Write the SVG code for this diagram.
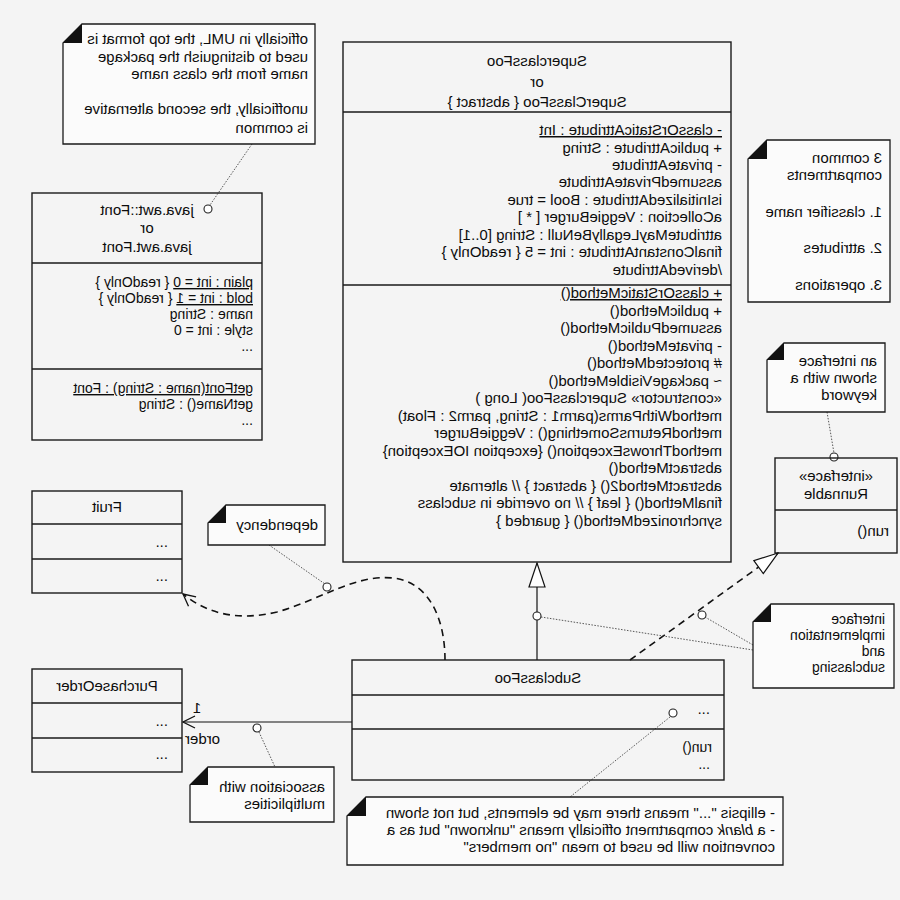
<svg xmlns="http://www.w3.org/2000/svg" width="900" height="900" viewBox="0 0 900 900">
<style>
.t{font-family:"Liberation Sans",Arial,sans-serif;font-size:15px;fill:#0c0c0c}
.s{font-size:14px}
.c{text-anchor:middle}
.e{text-anchor:end}
.box{fill:none;stroke:#1a1a1a;stroke-width:1.4}
.note{fill:#fbfbfb;stroke:#1a1a1a;stroke-width:1.3}
.fold{fill:#111;stroke:none}
.anc{fill:none;stroke:#444;stroke-width:0.9;stroke-dasharray:1.5 1.5}
.dot{fill:#fff;stroke:#222;stroke-width:1.1}
.dash{fill:none;stroke:#111;stroke-width:1.6;stroke-dasharray:7 5}
.solid{fill:none;stroke:#111;stroke-width:1.2}
.u{text-decoration:underline}
</style>
<defs>
<marker id="tri" markerUnits="userSpaceOnUse" markerWidth="26" markerHeight="18" viewBox="0 0 26 18" refX="25" refY="9" orient="auto">
<path d="M1,1 L25,9 L1,17 Z" fill="#fff" stroke="#111" stroke-width="1.2" stroke-dasharray="none"/>
</marker>
<marker id="open" markerUnits="userSpaceOnUse" markerWidth="14" markerHeight="14" viewBox="0 0 14 14" refX="13" refY="7" orient="auto">
<path d="M1,1 L13,7 L1,13" fill="none" stroke="#111" stroke-width="1.3" stroke-dasharray="none"/>
</marker>
</defs>
<rect x="0" y="0" width="900" height="900" fill="#f4f4f4"/>
<g id="diagram" transform="matrix(-1 0 0 1 900 0)">
<g id="connectors">
<path class="dash" d="M455,660 C455,620 470,582 507,578 C545,574 580,600 623,612 C665,622 695,612 717,594" marker-end="url(#open)"/>
<line class="solid" x1="363" y1="660" x2="363" y2="563" marker-end="url(#tri)"/>
<line class="dash" x1="270" y1="660" x2="122" y2="553" marker-end="url(#tri)"/>
<line class="solid" x1="548" y1="722" x2="717" y2="722" marker-end="url(#open)"/>
<text class="t c" x="703" y="713">1</text>
<text class="t e" x="715" y="744">order</text>
<line class="anc" x1="648" y1="144" x2="690" y2="205"/>
<circle class="dot" cx="692" cy="209" r="4"/>
<line class="anc" x1="73" y1="412" x2="66" y2="453"/>
<circle class="dot" cx="66" cy="457" r="4"/>
<line class="anc" x1="631" y1="545" x2="575" y2="584"/>
<circle class="dot" cx="573" cy="587" r="4"/>
<line class="anc" x1="359" y1="617" x2="147" y2="650"/>
<circle class="dot" cx="363" cy="616" r="4"/>
<line class="anc" x1="195" y1="617" x2="147" y2="645"/>
<circle class="dot" cx="198" cy="615" r="4"/>
<line class="anc" x1="641" y1="732" x2="625" y2="767"/>
<circle class="dot" cx="643" cy="728" r="4"/>
<line class="anc" x1="230" y1="717" x2="330" y2="797"/>
<circle class="dot" cx="227" cy="713" r="4"/>
</g>
<g id="n-note-package">
<path class="note" d="M585,24 H818 L837,43 V144 H585 Z"/>
<path class="fold" d="M818,24 L837,43 H818 Z"/>
<text class="t" x="592" y="44">officially in UML, the top format is</text>
<text class="t" x="592" y="62">used to distinguish the package</text>
<text class="t" x="592" y="79">name from the class name</text>
<text class="t" x="592" y="114">unofficially, the second alternative</text>
<text class="t" x="592" y="133">is common</text>
</g>
<g id="n-font">
<rect class="box" x="638" y="193" width="230" height="247"/>
<line class="box" x1="638" y1="263" x2="868" y2="263"/>
<line class="box" x1="638" y1="369" x2="868" y2="369"/>
<text class="t c" x="753" y="215">java.awt::Font</text>
<text class="t c" x="753" y="233">or</text>
<text class="t c" x="753" y="252">java.awt.Font</text>
<text class="t s" x="647" y="287"><tspan class="u">plain : int = 0</tspan> { readOnly }</text>
<text class="t s" x="647" y="303"><tspan class="u">bold : int = 1</tspan> { readOnly }</text>
<text class="t s" x="647" y="319">name : String</text>
<text class="t s" x="647" y="335">style : int = 0</text>
<text class="t s" x="647" y="351">...</text>
<text class="t s u" x="647" y="393">getFont(name : String) : Font</text>
<text class="t s" x="647" y="409">getName() : String</text>
<text class="t s" x="647" y="425">...</text>
</g>
<g id="n-superclass">
<rect class="box" x="169" y="42" width="388" height="520"/>
<line class="box" x1="169" y1="112" x2="557" y2="112"/>
<line class="box" x1="169" y1="285" x2="557" y2="285"/>
<text class="t c" x="363" y="66">SuperclassFoo</text>
<text class="t c" x="363" y="87">or</text>
<text class="t c" x="363" y="107">SuperClassFoo { abstract }</text>
<text class="t u" x="178" y="135">- classOrStaticAttribute : Int</text>
<text class="t" x="178" y="153">+ publicAttribute : String</text>
<text class="t" x="178" y="170">- privateAttribute</text>
<text class="t" x="178" y="187">assumedPrivateAttribute</text>
<text class="t" x="178" y="205">isInitializedAttribute : Bool = true</text>
<text class="t" x="178" y="222">aCollection : VeggieBurger [ * ]</text>
<text class="t" x="178" y="240">attributeMayLegallyBeNull : String [0..1]</text>
<text class="t" x="178" y="257">finalConstantAttribute : int = 5  { readOnly }</text>
<text class="t" x="178" y="275">/derivedAttribute</text>
<text class="t u" x="178" y="298">+ classOrStaticMethod()</text>
<text class="t" x="178" y="315.5">+ publicMethod()</text>
<text class="t" x="178" y="333">assumedPublicMethod()</text>
<text class="t" x="178" y="350.5">- privateMethod()</text>
<text class="t" x="178" y="368"># protectedMethod()</text>
<text class="t" x="178" y="385.5">~ packageVisibleMethod()</text>
<text class="t" x="178" y="403">«constructor» SuperclassFoo( Long )</text>
<text class="t" x="178" y="420.5">methodWithParms(parm1 : String, parm2 : Float)</text>
<text class="t" x="178" y="438">methodReturnsSomething() : VeggieBurger</text>
<text class="t" x="178" y="455.5">methodThrowsException() {exception IOException}</text>
<text class="t" x="178" y="473">abstractMethod()</text>
<text class="t" x="178" y="490.5">abstractMethod2() { abstract }  // alternate</text>
<text class="t" x="178" y="508">finalMethod() { leaf }  // no override in subclass</text>
<text class="t" x="178" y="525.5">synchronizedMethod() { guarded }</text>
</g>
<g id="n-note-compartments">
<path class="note" d="M10,140 H133 L152,159 V302 H10 Z"/>
<path class="fold" d="M133,140 L152,159 H133 Z"/>
<text class="t" x="18" y="163">3 common</text>
<text class="t" x="18" y="180">compartments</text>
<text class="t" x="18" y="217">1. classifier name</text>
<text class="t" x="18" y="253">2. attributes</text>
<text class="t" x="18" y="290">3. operations</text>
</g>
<g id="n-note-interface">
<path class="note" d="M15,343 H116 L133,360 V412 H15 Z"/>
<path class="fold" d="M116,343 L133,360 H116 Z"/>
<text class="t" x="23" y="366">an interface</text>
<text class="t" x="23" y="383">shown with a</text>
<text class="t" x="23" y="400">keyword</text>
</g>
<g id="n-runnable">
<rect class="box" x="3" y="458" width="122" height="95"/>
<line class="box" x1="3" y1="510" x2="125" y2="510"/>
<text class="t c" x="64" y="481">«interface»</text>
<text class="t c" x="64" y="499">Runnable</text>
<text class="t" x="11" y="536">run()</text>
</g>
<g id="n-note-impl">
<path class="note" d="M6,604 H129 L147,622 V688 H6 Z"/>
<path class="fold" d="M129,604 L147,622 H129 Z"/>
<text class="t s" x="15" y="624">interface</text>
<text class="t s" x="15" y="640">implementation</text>
<text class="t s" x="15" y="656">and</text>
<text class="t s" x="15" y="672">subclassing</text>
</g>
<g id="n-fruit">
<rect class="box" x="718" y="491" width="150" height="102"/>
<line class="box" x1="718" y1="524" x2="868" y2="524"/>
<line class="box" x1="718" y1="559" x2="868" y2="559"/>
<text class="t c" x="793" y="512">Fruit</text>
<text class="t" x="732" y="547">...</text>
<text class="t" x="732" y="581">...</text>
</g>
<g id="n-note-dependency">
<path class="note" d="M575,505 H674 L692,523 V545 H575 Z"/>
<path class="fold" d="M674,505 L692,523 H674 Z"/>
<text class="t" x="582" y="530">dependency</text>
</g>
<g id="n-purchaseorder">
<rect class="box" x="718" y="669" width="150" height="103"/>
<line class="box" x1="718" y1="703" x2="868" y2="703"/>
<line class="box" x1="718" y1="738" x2="868" y2="738"/>
<text class="t c" x="793" y="691">PurchaseOrder</text>
<text class="t" x="732" y="726">...</text>
<text class="t" x="732" y="759">...</text>
</g>
<g id="n-note-assoc">
<path class="note" d="M566,767 H692 L710,785 V822 H566 Z"/>
<path class="fold" d="M692,767 L710,785 H692 Z"/>
<text class="t" x="575" y="792">association with</text>
<text class="t" x="575" y="809">multiplicities</text>
</g>
<g id="n-subclass">
<rect class="box" x="176" y="660" width="372" height="120"/>
<line class="box" x1="176" y1="695" x2="548" y2="695"/>
<line class="box" x1="176" y1="729" x2="548" y2="729"/>
<text class="t c" x="362" y="683">SubclassFoo</text>
<text class="t" x="190" y="714">...</text>
<text class="t s" x="188" y="752">run()</text>
<text class="t s" x="190" y="769">...</text>
</g>
<g id="n-note-ellipsis">
<path class="note" d="M117,797 H534 L553,816 V865 H117 Z"/>
<path class="fold" d="M534,797 L553,816 H534 Z"/>
<text class="t" x="125" y="818">- ellipsis "..." means there may be elements, but not shown</text>
<text class="t" x="125" y="835">- a <tspan font-style="italic">blank</tspan> compartment officially means "unknown" but as a</text>
<text class="t" x="125" y="852">convention will be used to mean "no members"</text>
</g>
</g>
</svg>
